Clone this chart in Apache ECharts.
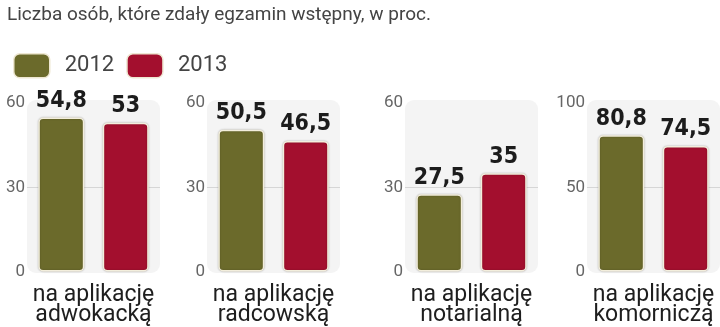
<!DOCTYPE html>
<html>
<head>
<meta charset="utf-8">
<script src="https://cdn.jsdelivr.net/npm/echarts@6/dist/echarts.min.js"></script>
<style>
html,body{margin:0;padding:0;background:#fff;}
#chart{width:720px;height:327px;}
</style>
</head>
<body>
<div id="chart"></div>
<script>
// Data
const titleText = 'Liczba osób, które zdały egzamin wstępny, w proc.';
const seriesNames = ['2012', '2013'];
const categories = ['na aplikację\nadwokacką', 'na aplikację\nradcowską', 'na aplikację\nnotarialną', 'na aplikację\nkomorniczą'];
const values2012 = [54.8, 50.5, 27.5, 80.8];
const values2013 = [53, 46.5, 35, 74.5];
const axisMax = [60, 60, 60, 100];
const axisStep = [30, 30, 30, 50];

// Layout of the four small panels
const panelLeft = [27, 207, 405, 587];
const panelWidth = 133;
const panelTop = 103;
const panelHeight = 169;

const colors = ['#6b6a2b', '#a30f2e'];
const fontMain = 'Roboto, "Liberation Sans", sans-serif';
const fontValue = '"DejaVu Sans Condensed", "DejaVu Sans", sans-serif';

const chart = echarts.init(document.getElementById('chart'), null, {renderer: 'canvas'});

const grids = [], xAxes = [], yAxes = [], series = [], graphics = [];

categories.forEach((cat, i) => {
  grids.push({left: panelLeft[i], top: panelTop, width: panelWidth, height: panelHeight});
  // rounded panel background
  graphics.push({
    type: 'rect', z: -10,
    shape: {x: panelLeft[i], y: panelTop - 3, width: panelWidth, height: panelHeight + 4, r: 9},
    style: {fill: '#f4f4f4'}
  });
  xAxes.push({
    type: 'category', gridIndex: i, data: [cat],
    axisLine: {show: false}, axisTick: {show: false},
    axisLabel: {
      color: '#1e1e1e', fontFamily: fontMain, fontSize: 23, lineHeight: 20,
      margin: 14, interval: 0
    }
  });
  yAxes.push({
    type: 'value', gridIndex: i, min: 0, max: axisMax[i], interval: axisStep[i],
    axisLine: {show: false}, axisTick: {show: false},
    axisLabel: {color: '#666', fontFamily: fontMain, fontSize: 17, margin: 2},
    splitLine: {show: true, lineStyle: {color: ['transparent', '#d6d6d6', 'transparent'], width: 1}}
  });
  [values2012, values2013].forEach((vals, s) => {
    series.push({
      name: seriesNames[s], type: 'bar', xAxisIndex: i, yAxisIndex: i,
      data: [vals[i]], barWidth: 46, barGap: '40%',
      itemStyle: {
        color: colors[s], borderRadius: 4, borderColor: '#f3eedc', borderWidth: 1.5,
        shadowBlur: 2, shadowColor: 'rgba(0,0,0,0.25)'
      },
      label: {
        show: true, position: 'top', distance: 5,
        formatter: p => String(p.value).replace('.', ','),
        color: '#1c1c1c', fontFamily: fontValue, fontWeight: 'bold', fontSize: 23
      }
    });
  });
});

chart.setOption({
  animation: false,
  backgroundColor: '#fff',
  title: {
    text: titleText, left: 2, top: 1,
    textStyle: {color: '#444', fontFamily: fontMain, fontSize: 19, fontWeight: 'normal'}
  },
  legend: {
    data: seriesNames, left: 8, top: 48, itemWidth: 36, itemHeight: 24, itemGap: 12,
    icon: 'roundRect', selectedMode: false,
    itemStyle: {borderColor: '#eee7d2', borderWidth: 1.5},
    textStyle: {color: '#444', fontFamily: fontMain, fontSize: 22, padding: [0, 0, 0, 10]}
  },
  grid: grids,
  xAxis: xAxes,
  yAxis: yAxes,
  series: series,
  graphic: graphics
});
</script>
</body>
</html>
